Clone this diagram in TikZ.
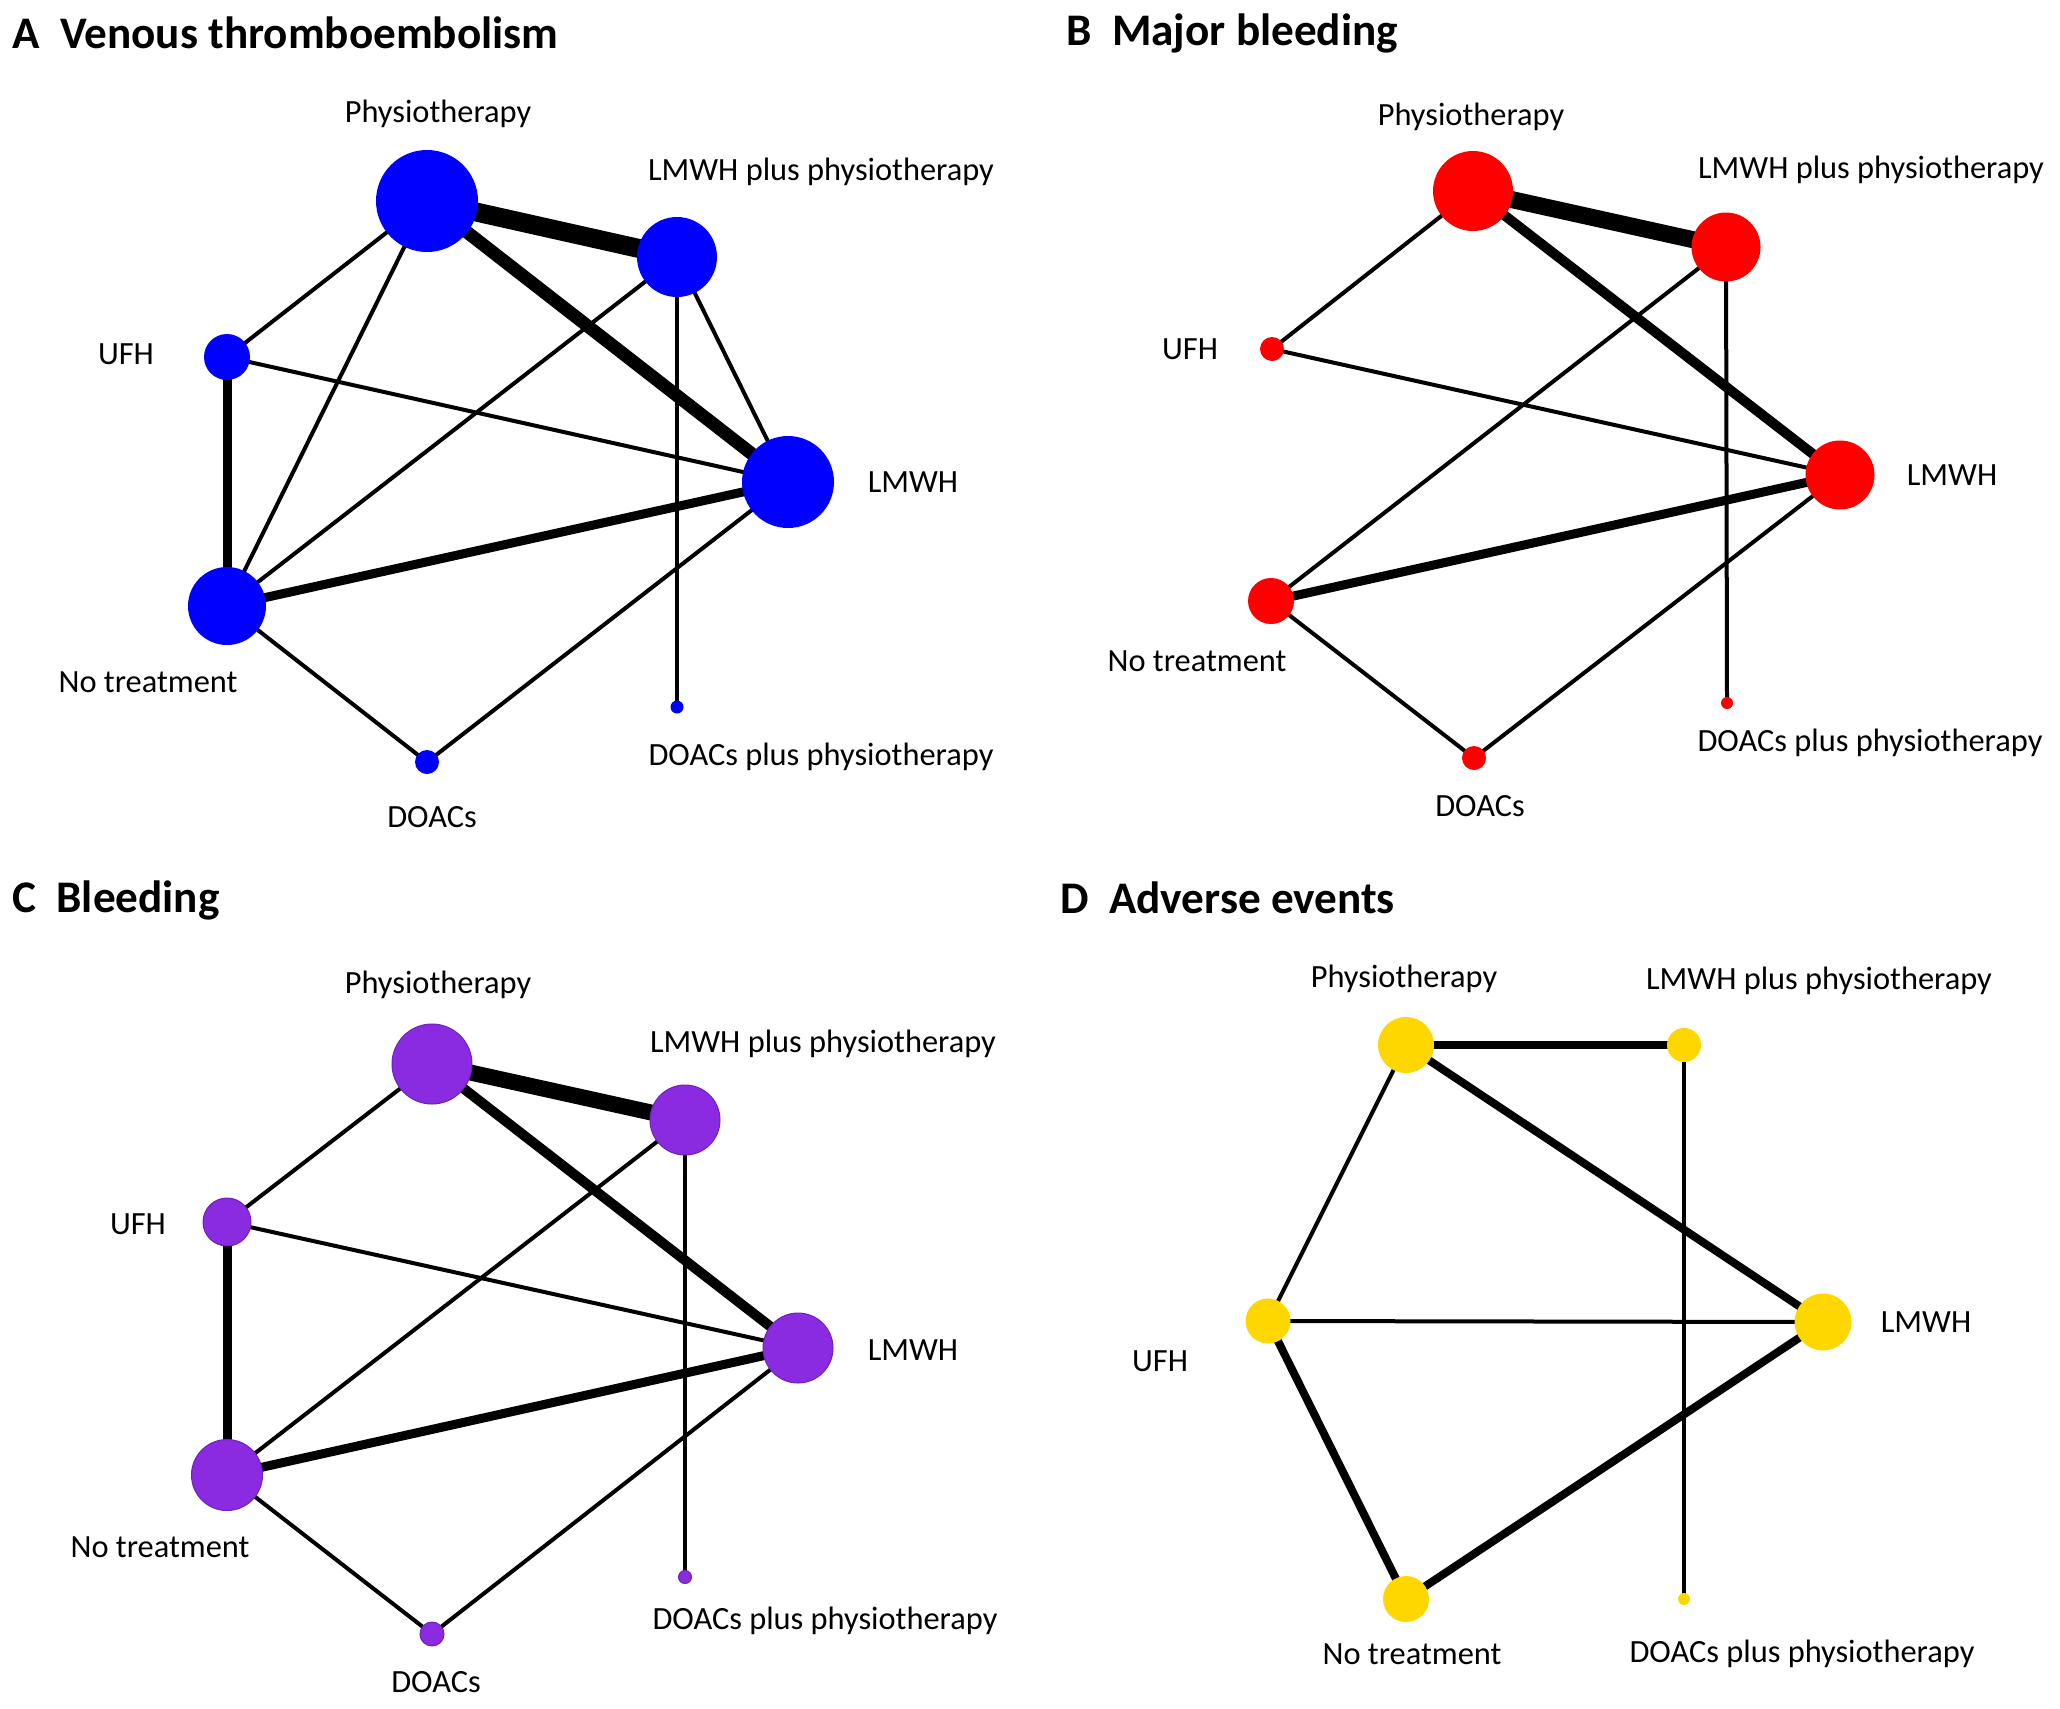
\documentclass[tikz,border=0pt]{standalone}
\usepackage{fontspec}
\setmainfont{Carlito}
\usetikzlibrary{backgrounds}
\definecolor{nblue}{HTML}{0000FF}
\definecolor{nred}{HTML}{FF0000}
\definecolor{npurple}{HTML}{8A2BE2}
\definecolor{ngold}{HTML}{FFD700}
\tikzset{
  dot/.style={circle, inner sep=0pt, minimum size=#1},
  lbl/.style={inner sep=0pt, font=\fontsize{16.2}{19}\selectfont},
  ttl/.style={inner sep=0pt, anchor=west, font=\fontsize{22.6}{27}\selectfont\bfseries},
  thin/.style={line width=2pt},
  thk/.style={line width=4.5pt},
  thkk/.style={line width=6.5pt},
  vthk/.style={line width=9.5pt},
}
\begin{document}
\begin{tikzpicture}[x=0.5pt,y=-0.5pt]
\useasboundingbox (0,0) rectangle (2060,1708);
% ---------- Panel A ----------
\node[ttl] (tA) at (12,33) {A\hspace{0.45em}Venous thromboembolism};
\begin{scope}[every node/.append style={fill=nblue}]
\node[dot=51pt] (aP) at (427,201) {};
\node[dot=40pt] (aLP) at (677,257) {};
\node[dot=23pt] (aU) at (227,357) {};
\node[dot=46pt] (aL) at (788,482) {};
\node[dot=39pt] (aN) at (227,606) {};
\node[dot=12pt] (aD) at (427,762) {};
\node[dot=6.5pt] (aDP) at (677,707) {};
\end{scope}
\node[lbl] (laP) at (438,114) {Physiotherapy};
\node[lbl] (laLP) at (821,172) {LMWH plus physiotherapy};
\node[lbl] (laU) at (126,354) {UFH};
\node[lbl] (laL) at (913,482) {LMWH};
\node[lbl] (laN) at (148,682) {No treatment};
\node[lbl] (laDP) at (821,757) {DOACs plus physiotherapy};
\node[lbl] (laD) at (432,817) {DOACs};
\begin{scope}[on background layer]
\draw[vthk] (aP.center) -- (aLP.center);
\draw[thkk] (aP.center) -- (aL.center);
\draw[thin] (aP.center) -- (aU.center);
\draw[thin] (aP.center) -- (aN.center);
\draw[thin] (aLP.center) -- (aN.center);
\draw[thin] (aLP.center) -- (aL.center);
\draw[thin] (aLP.center) -- (aDP.center);
\draw[thin] (aU.center) -- (aL.center);
\draw[thk] (aU.center) -- (aN.center);
\draw[thk] (aN.center) -- (aL.center);
\draw[thin] (aN.center) -- (aD.center);
\draw[thin] (aL.center) -- (aD.center);
\end{scope}
% ---------- Panel B ----------
\node[ttl] (tB) at (1066,33) {B\hspace{0.45em}Major bleeding};
\begin{scope}[every node/.append style={fill=nred}]
\node[dot=40pt] (bP) at (1473,191) {};
\node[dot=34.5pt] (bLP) at (1726,247) {};
\node[dot=12pt] (bU) at (1272,349) {};
\node[dot=34.5pt] (bL) at (1840,475) {};
\node[dot=23pt] (bN) at (1271,601) {};
\node[dot=12pt] (bD) at (1474,758) {};
\node[dot=6pt] (bDP) at (1727,703) {};
\end{scope}
\node[lbl] (lbP) at (1471,117) {Physiotherapy};
\node[lbl] (lbLP) at (1871,170) {LMWH plus physiotherapy};
\node[lbl] (lbU) at (1190,349) {UFH};
\node[lbl] (lbL) at (1952,475) {LMWH};
\node[lbl] (lbN) at (1197,661) {No treatment};
\node[lbl] (lbDP) at (1870,743) {DOACs plus physiotherapy};
\node[lbl] (lbD) at (1480,806) {DOACs};
\begin{scope}[on background layer]
\draw[line width=8.5pt] (bP.center) -- (bLP.center);
\draw[line width=5pt] (bP.center) -- (bL.center);
\draw[thin] (bP.center) -- (bU.center);
\draw[thin] (bU.center) -- (bL.center);
\draw[thin] (bLP.center) -- (bN.center);
\draw[thin] (bLP.center) -- (bDP.center);
\draw[thk] (bN.center) -- (bL.center);
\draw[thin] (bN.center) -- (bD.center);
\draw[thin] (bL.center) -- (bD.center);
\end{scope}
% ---------- Panel C ----------
\node[ttl] (tC) at (12,900) {C\hspace{0.45em}Bleeding};
\begin{scope}[every node/.append style={fill=npurple, draw=npurple!80!black, line width=0.5pt}]
\node[dot=40pt] (cP) at (432,1064) {};
\node[dot=35pt] (cLP) at (685,1120) {};
\node[dot=24pt] (cU) at (227,1222) {};
\node[dot=35pt] (cL) at (798,1348) {};
\node[dot=35.5pt] (cN) at (227,1475) {};
\node[dot=12pt] (cD) at (432,1634) {};
\node[dot=6.5pt] (cDP) at (685,1577) {};
\end{scope}
\node[lbl] (lcP) at (438,985) {Physiotherapy};
\node[lbl] (lcLP) at (823,1044) {LMWH plus physiotherapy};
\node[lbl] (lcU) at (138,1224) {UFH};
\node[lbl] (lcL) at (913,1350) {LMWH};
\node[lbl] (lcN) at (160,1547) {No treatment};
\node[lbl] (lcDP) at (825,1621) {DOACs plus physiotherapy};
\node[lbl] (lcD) at (436,1682) {DOACs};
\begin{scope}[on background layer]
\draw[line width=8pt] (cP.center) -- (cLP.center);
\draw[line width=5pt] (cP.center) -- (cL.center);
\draw[thin] (cP.center) -- (cU.center);
\draw[thk] (cU.center) -- (cN.center);
\draw[thin] (cU.center) -- (cL.center);
\draw[thin] (cLP.center) -- (cN.center);
\draw[thin] (cLP.center) -- (cDP.center);
\draw[thk] (cN.center) -- (cL.center);
\draw[thin] (cN.center) -- (cD.center);
\draw[thin] (cL.center) -- (cD.center);
\end{scope}
% ---------- Panel D ----------
\node[ttl] (tD) at (1060,898) {D\hspace{0.45em}Adverse events};
\begin{scope}[every node/.append style={fill=ngold}]
\node[dot=28pt] (dP) at (1406,1045) {};
\node[dot=17pt] (dLP) at (1684,1045) {};
\node[dot=22.5pt] (dU) at (1268,1321) {};
\node[dot=28.5pt] (dL) at (1823,1322) {};
\node[dot=23pt] (dN) at (1406,1599) {};
\node[dot=6pt] (dDP) at (1684,1599) {};
\end{scope}
\node[lbl] (ldP) at (1404,979) {Physiotherapy};
\node[lbl] (ldLP) at (1819,981) {LMWH plus physiotherapy};
\node[lbl] (ldU) at (1160,1361) {UFH};
\node[lbl] (ldL) at (1926,1322) {LMWH};
\node[lbl] (ldN) at (1412,1654) {No treatment};
\node[lbl] (ldDP) at (1802,1654) {DOACs plus physiotherapy};
\begin{scope}[on background layer]
\draw[line width=4pt] (dP.center) -- (dLP.center);
\draw[line width=4pt] (dP.center) -- (dL.center);
\draw[thin] (dP.center) -- (dU.center);
\draw[thin] (dU.center) -- (dL.center);
\draw[line width=4pt] (dU.center) -- (dN.center);
\draw[line width=4pt] (dN.center) -- (dL.center);
\draw[thin] (dLP.center) -- (dDP.center);
\end{scope}
\end{tikzpicture}
\end{document}
